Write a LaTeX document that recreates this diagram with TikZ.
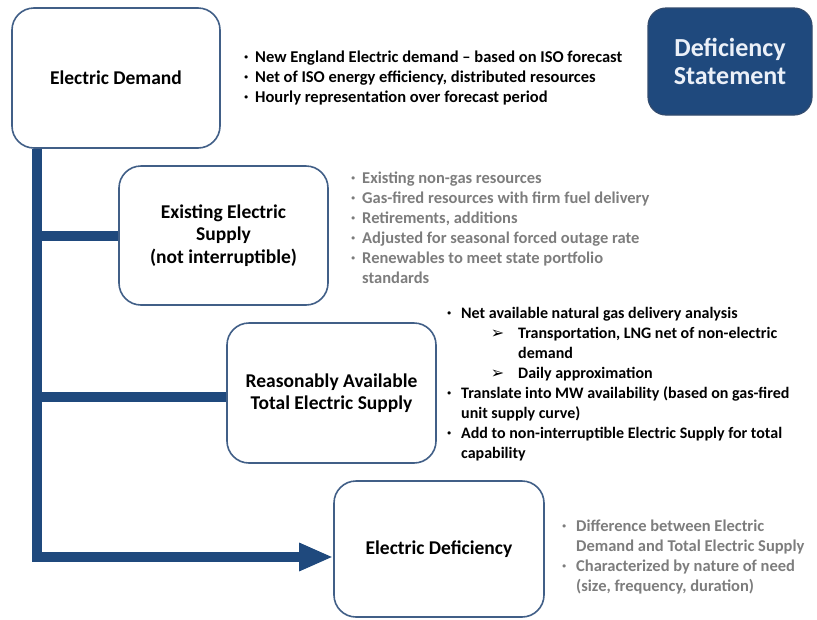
\documentclass[tikz,border=0pt]{standalone}
\usepackage{fontspec}
\setmainfont{Carlito}
\newfontfamily\symfont{DejaVu Sans}
\usetikzlibrary{arrows.meta}
\definecolor{barblue}{RGB}{31,73,125}
\definecolor{boxline}{RGB}{65,95,135}
\definecolor{txtgray}{RGB}{125,125,125}
\definecolor{dstext}{RGB}{235,240,248}
\definecolor{dsline}{RGB}{50,75,110}
\newcommand\bul[1][7pt]{\llap{\raisebox{2.5pt}{\fontsize{7.5}{7.5}\selectfont\textbullet}\hspace{#1}}}
\newcommand\sarr{\llap{\raisebox{-0.5pt}{\symfont\fontsize{16}{16}\selectfont ➢}\hspace{14pt}}}
\begin{document}
\begin{tikzpicture}[x=1pt,y=-1pt,
  box/.style={draw=boxline, line width=1.6pt, rounded corners=22pt, fill=white,
    align=center, inner sep=0pt, font=\bfseries\fontsize{19.5}{22.5}\selectfont},
  dsbox/.style={draw=dsline, line width=1.2pt, rounded corners=18pt, fill=barblue,
    text=dstext, align=center, inner sep=0pt, font=\bfseries\fontsize{26}{28}\selectfont},
  bar/.style={draw=barblue, line width=10pt, line join=miter},
  blist/.style={anchor=base west, inner sep=0pt, align=left,
    font=\bfseries\fontsize{16.5}{20}\selectfont},
  glist/.style={blist, text=txtgray}]
\useasboundingbox (0,0) rectangle (817,619);

\node[box, minimum width=208pt, minimum height=140pt] (ed) at (116,78) {Electric Demand};
\node[dsbox, minimum width=164pt, minimum height=107pt] (ds) at (730,61.5) {Deficiency\\Statement};
\node[box, minimum width=209pt, minimum height=139pt] (es) at (223.5,235.5) {Existing Electric\\Supply\\(not interruptible)};
\node[box, minimum width=209pt, minimum height=140pt] (ra) at (331.5,393) {Reasonably Available\\Total Electric Supply};
\node[box, minimum width=210pt, minimum height=136pt] (def) at (439,549) {Electric Deficiency};

\coordinate (top) at ([xshift=26pt]ed.south west);
\draw[bar] (top) |- (es.west);
\draw[bar] (top) |- ([yshift=-4pt]ra.west);
\draw[bar, -{Triangle[length=34pt,width=26pt]}] (top) |- ([yshift=-8pt]def.west);

\node[blist] (l1) at (255,62) {\begin{tabular}[t]{@{}l@{}}
\bul New England Electric demand -- based on ISO forecast\\
\bul Net of ISO energy efficiency, distributed resources\\
\bul Hourly representation over forecast period
\end{tabular}};

\node[glist] (l2) at (362,183) {\begin{tabular}[t]{@{}l@{}}
\bul Existing non-gas resources\\
\bul Gas-fired resources with firm fuel delivery\\
\bul Retirements, additions\\
\bul Adjusted for seasonal forced outage rate\\
\bul Renewables to meet state portfolio\\
standards
\end{tabular}};

\node[blist, font=\bfseries\fontsize{16}{20}\selectfont] (l3) at (461,318) {\begin{tabular}[t]{@{}l@{}}
\bul[10pt]Net available natural gas delivery analysis\\
\hspace*{57pt}\sarr Transportation, LNG net of non-electric\\
\hspace*{57pt}demand\\
\hspace*{57pt}\sarr Daily approximation\\
\bul[10pt]Translate into MW availability (based on gas-fired\\
unit supply curve)\\
\bul[10pt]Add to non-interruptible Electric Supply for total\\
capability
\end{tabular}};

\node[glist] (l4) at (576,531) {\begin{tabular}[t]{@{}l@{}}
\bul[10pt]Difference between Electric\\
Demand and Total Electric Supply\\
\bul[10pt]Characterized by nature of need\\
(size, frequency, duration)
\end{tabular}};
\end{tikzpicture}
\end{document}
